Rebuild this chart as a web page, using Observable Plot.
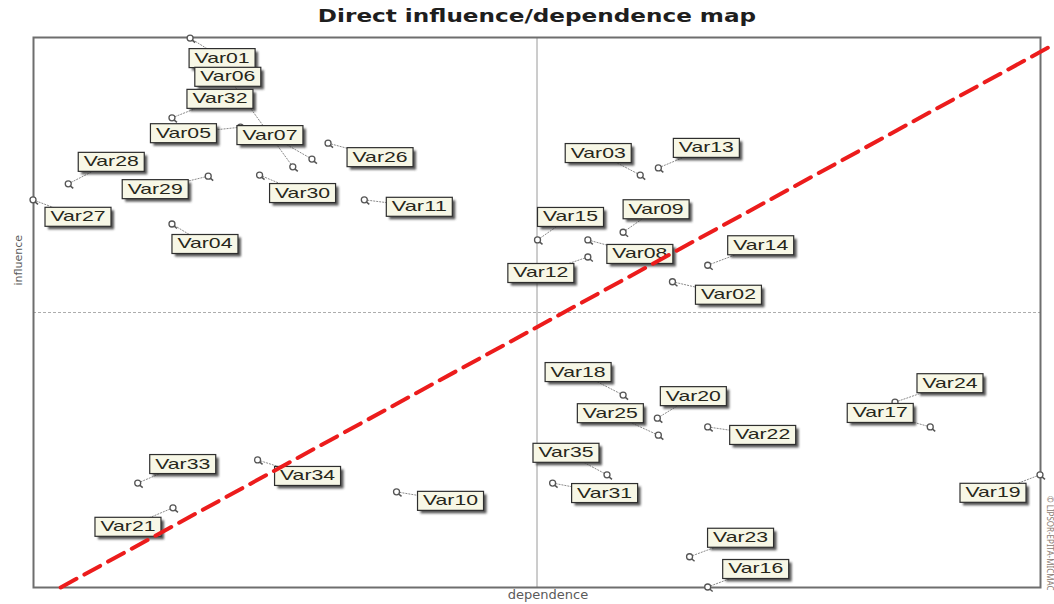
<!DOCTYPE html>
<html><head><meta charset="utf-8">
<script src="https://cdn.jsdelivr.net/npm/d3@7"></script>
<script src="https://cdn.jsdelivr.net/npm/@observablehq/plot@0.6"></script>
<style>
body{margin:0;background:#fff;width:1054px;height:604px;overflow:hidden;position:relative;font-family:"DejaVu Sans",sans-serif}
#title{position:absolute;left:537px;top:6px;white-space:nowrap;font:bold 17px "DejaVu Sans",sans-serif;color:#1e1e1e;transform:translateX(-50%) scaleX(1.36);}
#chart{position:absolute;left:0;top:30px;}
</style></head><body>
<div id="title">Direct influence/dependence map</div>
<div id="chart"></div>
<script>
// ---- data (arbitrary 0–100 units) ----
const variables  = ["Var01","Var06","Var32","Var05","Var07","Var26","Var28","Var29","Var30","Var27","Var11","Var04",
                    "Var03","Var13","Var15","Var09","Var08","Var12","Var14","Var02",
                    "Var33","Var34","Var21","Var10",
                    "Var18","Var20","Var25","Var22","Var24","Var17","Var35","Var31","Var19","Var23","Var16"];
const dependence = [15.6,25.8,13.8,20.6,27.7,29.3,3.5,17.4,22.5,0.0,32.9,13.8,
                    60.3,62.1,50.1,58.6,55.1,55.1,67.0,63.5,
                    10.4,22.3,13.9,36.1,
                    58.6,62.0,62.1,67.0,85.6,89.1,57.0,51.6,100.0,65.2,67.0];
const influence  = [99.8,76.4,85.3,83.6,77.8,80.7,73.3,74.7,74.9,70.4,70.4,66.0,
                    74.9,76.2,63.1,64.5,63.1,60.0,58.5,55.5,
                    18.9,23.1,14.4,17.3,
                    34.9,30.7,27.6,29.1,33.6,29.1,20.4,18.9,20.4,5.5,0.0];
const midDependence = 50;
const midInfluence = 50;
const diagonalDependence = [2.7, 101.4];
const diagonalInfluence  = [0, 98.8];
const axisLabels = {x: "dependence", y: "influence"};
const titleText = "Direct influence/dependence map";
const copyright = "© LIPSOR-EPITA-MICMAC";

// ---- layout: label box offsets from each point (pixels) ----
const labelOffset = {
  Var01:[32,20], Var06:[-65,-90], Var32:[48,-19], Var05:[-57,6], Var07:[-42,-24], Var26:[52,14],
  Var28:[43,-22], Var29:[-53,13], Var30:[43,18], Var27:[45,17], Var11:[55,7], Var04:[33,20],
  Var03:[-42,-22], Var13:[48,-20], Var15:[33,-23], Var09:[33,-23], Var08:[52,14], Var12:[-47,16],
  Var14:[53,-20], Var02:[56,13],
  Var33:[45,-19], Var34:[50,16], Var21:[-45,19], Var10:[54,9],
  Var18:[-45,-23], Var20:[36,-22], Var25:[-48,-22], Var22:[55,8], Var24:[55,-19], Var17:[-50,-14],
  Var35:[-41,-22], Var31:[52,10], Var19:[-47,18], Var23:[51,-19], Var16:[48,-18]
};

document.getElementById("title").textContent = titleText;

const diagonal = diagonalDependence.map((d, i) => ({dependence: d, influence: diagonalInfluence[i]}));

const labelsMark = (index, scales) => {
  const g = d3.create("svg:g");
  const defs = g.append("defs");
  defs.append("filter").attr("id","shadowBlur").append("feGaussianBlur").attr("stdDeviation", 0.8);
  const W = 66, H = 19;
  // leader lines
  variables.forEach((name, i) => {
    const cx = scales.x(dependence[i]), cy = scales.y(influence[i]);
    const [dx, dy] = labelOffset[name];
    g.append("line").attr("x1", cx).attr("y1", cy).attr("x2", cx + dx).attr("y2", cy + dy)
      .attr("stroke", "#8a8a8a").attr("stroke-width", 1).attr("stroke-dasharray", "2,1");
  });
  // markers
  variables.forEach((name, i) => {
    const cx = scales.x(dependence[i]), cy = scales.y(influence[i]);
    g.append("line").attr("x1", cx + 2).attr("y1", cy + 2).attr("x2", cx + 5).attr("y2", cy + 4.5)
      .attr("stroke", "#555").attr("stroke-width", 1.5);
    g.append("circle").attr("cx", cx).attr("cy", cy).attr("r", 3)
      .attr("fill", "#fff").attr("stroke", "#555").attr("stroke-width", 1.3);
  });
  // label boxes
  variables.forEach((name, i) => {
    const cx = scales.x(dependence[i]), cy = scales.y(influence[i]);
    const [dx, dy] = labelOffset[name];
    const lx = cx + dx, ly = cy + dy;
    g.append("rect").attr("x", lx - W/2 + 3).attr("y", ly - H/2 + 3).attr("width", W).attr("height", H)
      .attr("fill", "#3a3a3a").attr("opacity", 0.85).attr("filter", "url(#shadowBlur)");
    g.append("rect").attr("x", lx - W/2).attr("y", ly - H/2).attr("width", W).attr("height", H)
      .attr("fill", "#f7f7e6").attr("stroke", "#2e2e2e").attr("stroke-width", 1.2);
    g.append("text").attr("x", lx).attr("y", ly + 0.5).attr("text-anchor", "middle").attr("dominant-baseline", "middle")
      .attr("font-family", "Liberation Sans, Arial, sans-serif").attr("font-size", 15)
      .attr("textLength", 55).attr("lengthAdjust", "spacingAndGlyphs")
      .attr("fill", "#26261a").text(name);
  });
  return g.node();
};

const plot = Plot.plot({
  width: 1054,
  height: 574,
  marginLeft: 33,
  marginRight: 14,
  marginTop: 7,
  marginBottom: 17,
  x: {domain: [0, 100], axis: null},
  y: {domain: [0, 100], axis: null},
  style: {background: "#fff", overflow: "visible"},
  marks: [
    Plot.ruleX([midDependence], {stroke: "#9a9a9a", strokeWidth: 1}),
    Plot.ruleY([midInfluence], {stroke: "#adadad", strokeWidth: 1, strokeDasharray: "3,2"}),
    Plot.frame({stroke: "#6e6e6e", strokeWidth: 2}),
    labelsMark,
    Plot.line(diagonal, {x: "dependence", y: "influence", stroke: "#ec1c1c", strokeWidth: 4, strokeDasharray: "18,9"}),
    Plot.text([axisLabels.x], {frameAnchor: "bottom", dx: 11, dy: 11, fontSize: 13, fill: "#5a5a5a", fontFamily: "DejaVu Sans"}),
    Plot.text([axisLabels.y], {frameAnchor: "left", rotate: -90, dx: -15, dy: -27, fontSize: 11, fill: "#5a5a5a", fontFamily: "DejaVu Sans"}),
    Plot.text([copyright], {frameAnchor: "bottom-right", rotate: 90, textAnchor: "end", dx: 6, dy: 3, fontSize: 8, fill: "#8a7a70"})
  ]
});
document.getElementById("chart").appendChild(plot);
</script>
</body></html>
